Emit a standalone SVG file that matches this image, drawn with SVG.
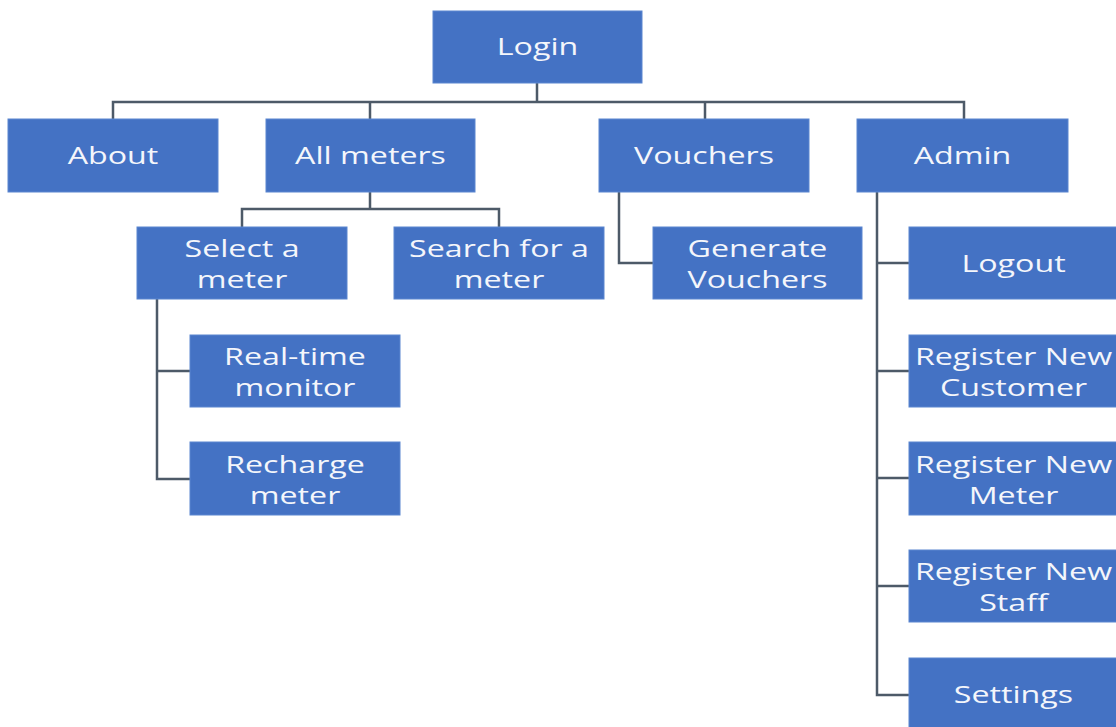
<svg xmlns="http://www.w3.org/2000/svg" width="1116" height="727" viewBox="0 0 1116 727">
<style>
.box{fill:#4472C4;stroke:#5a86d0;stroke-width:1}
.t{font-family:"Open Sans","Liberation Sans",sans-serif;font-size:23px;fill:#f4f6fb;text-anchor:middle}
.c{fill:none;stroke:#4d5a68;stroke-width:2.5}
</style>
<rect width="1116" height="727" fill="#ffffff"/>
<g id="connectors">
<path class="c" d="M537 83V102M113 119V102H964V119M370 102V119M705 102V119"/>
<path class="c" d="M370 192V209M242 227V209H499V227"/>
<path class="c" d="M157 299V479H190M157 371H190"/>
<path class="c" d="M619 192V263H653"/>
<path class="c" d="M877 192V695H909M877 263H909M877 371H909M877 478H909M877 586H909"/>
</g>
<g id="login"><rect class="box" x="433" y="11" width="209" height="72"/><text class="t" transform="translate(537.5,55) scale(1.4,1)">Login</text></g>
<g id="about"><rect class="box" x="8" y="119" width="210" height="73"/><text class="t" transform="translate(113,163.5) scale(1.4,1)">About</text></g>
<g id="allmeters"><rect class="box" x="266" y="119" width="209" height="73"/><text class="t" transform="translate(370.5,163.5) scale(1.4,1)">All meters</text></g>
<g id="vouchers"><rect class="box" x="599" y="119" width="210" height="73"/><text class="t" transform="translate(704,163.5) scale(1.4,1)">Vouchers</text></g>
<g id="admin"><rect class="box" x="857" y="119" width="211" height="73"/><text class="t" transform="translate(962.5,163.5) scale(1.4,1)">Admin</text></g>
<g id="select"><rect class="box" x="137" y="227" width="210" height="72"/><text class="t" transform="translate(242,257) scale(1.4,1)">Select a</text><text class="t" transform="translate(242,288) scale(1.4,1)">meter</text></g>
<g id="search"><rect class="box" x="394" y="227" width="210" height="72"/><text class="t" transform="translate(499,257) scale(1.4,1)">Search for a</text><text class="t" transform="translate(499,288) scale(1.4,1)">meter</text></g>
<g id="generate"><rect class="box" x="653" y="227" width="209" height="72"/><text class="t" transform="translate(757.5,257) scale(1.4,1)">Generate</text><text class="t" transform="translate(757.5,288) scale(1.4,1)">Vouchers</text></g>
<g id="logout"><rect class="box" x="909" y="227" width="209" height="72"/><text class="t" transform="translate(1013.5,271.5) scale(1.4,1)">Logout</text></g>
<g id="realtime"><rect class="box" x="190" y="335" width="210" height="72"/><text class="t" transform="translate(295,365) scale(1.4,1)">Real-time</text><text class="t" transform="translate(295,396) scale(1.4,1)">monitor</text></g>
<g id="recharge"><rect class="box" x="190" y="442" width="210" height="73"/><text class="t" transform="translate(295,472.5) scale(1.4,1)">Recharge</text><text class="t" transform="translate(295,503.5) scale(1.4,1)">meter</text></g>
<g id="regcustomer"><rect class="box" x="909" y="335" width="209" height="72"/><text class="t" transform="translate(1013.5,365) scale(1.4,1)">Register New</text><text class="t" transform="translate(1013.5,396) scale(1.4,1)">Customer</text></g>
<g id="regmeter"><rect class="box" x="909" y="442" width="209" height="73"/><text class="t" transform="translate(1013.5,472.5) scale(1.4,1)">Register New</text><text class="t" transform="translate(1013.5,503.5) scale(1.4,1)">Meter</text></g>
<g id="regstaff"><rect class="box" x="909" y="550" width="209" height="72"/><text class="t" transform="translate(1013.5,580) scale(1.4,1)">Register New</text><text class="t" transform="translate(1013.5,611) scale(1.4,1)">Staff</text></g>
<g id="settings"><rect class="box" x="909" y="658" width="209" height="75"/><text class="t" transform="translate(1013.5,703) scale(1.4,1)">Settings</text></g>
</svg>
